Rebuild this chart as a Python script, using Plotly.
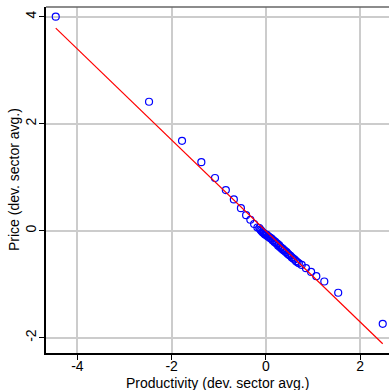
import plotly.graph_objects as go

# Outer points (left part)
x_left = [-4.46, -2.48, -1.78, -1.37, -1.08, -0.85, -0.68, -0.53, -0.42, -0.33, -0.25, -0.18]
y_left = [4.00, 2.41, 1.68, 1.28, 0.985, 0.76, 0.585, 0.42, 0.29, 0.205, 0.125, 0.06]

# Dense central cluster
x_mid = [-0.14, -0.12, -0.10, -0.08, -0.06, -0.04, -0.02, 0.00, 0.02, 0.04,
         0.06, 0.08, 0.10, 0.12, 0.14, 0.16, 0.18, 0.20, 0.22, 0.24,
         0.26, 0.28, 0.30, 0.32, 0.34, 0.36, 0.38, 0.40, 0.42, 0.44,
         0.46, 0.48, 0.50, 0.52, 0.55, 0.58, 0.61, 0.64, 0.67, 0.70]
y_mid = [0.05, 0.02, 0.00, -0.02, -0.04, -0.05, -0.07, -0.08, -0.08, -0.11,
         -0.11, -0.13, -0.14, -0.15, -0.18, -0.18, -0.21, -0.21, -0.24, -0.24,
         -0.28, -0.27, -0.31, -0.31, -0.34, -0.34, -0.37, -0.37, -0.40, -0.40,
         -0.43, -0.44, -0.46, -0.47, -0.50, -0.52, -0.54, -0.57, -0.59, -0.61]

# Outer points (right part)
x_right = [0.76, 0.85, 0.96, 1.07, 1.24, 1.535, 2.48]
y_right = [-0.64, -0.70, -0.77, -0.85, -0.95, -1.16, -1.74]

productivity = x_left + x_mid + x_right
price = y_left + y_mid + y_right

# Fitted line parameters
fit_slope = -0.85
fit_intercept = -0.005

x_ticks = [-4, -2, 0, 2]
y_ticks = [-2, 0, 2, 4]

fx = [min(productivity), max(productivity)]
fy = [fit_intercept + fit_slope * v for v in fx]

font = dict(family="Liberation Sans, Arial, sans-serif", size=14, color="black")

fig = go.Figure()
fig.add_trace(go.Scatter(
    x=productivity, y=price, mode="markers",
    marker=dict(symbol="circle-open", size=7, color="#0000FF", line=dict(width=1.2, color="#0000FF")),
    showlegend=False, cliponaxis=False,
))
fig.add_trace(go.Scatter(
    x=fx, y=fy, mode="lines", line=dict(color="#FF0000", width=1.2),
    showlegend=False,
))

fig.update_layout(
    width=389, height=390,
    margin=dict(l=46, r=0, t=7, b=37),
    paper_bgcolor="white", plot_bgcolor="white",
    font=font,
    xaxis=dict(
        range=[-4.667, 2.613], tickvals=x_ticks, ticktext=[str(v) for v in x_ticks],
        showgrid=True, gridcolor="#CCCCCC", gridwidth=1.5, zeroline=False,
        showline=True, linecolor="black", linewidth=1.5,
        ticks="outside", ticklen=5, tickcolor="black", tickwidth=1.2,
        ticklabelstandoff=-6,
        automargin=False,
    ),
    yaxis=dict(
        range=[-2.286, 4.181], tickvals=y_ticks, ticktext=[str(v) for v in y_ticks],
        tickangle=-90,
        showgrid=True, gridcolor="#CCCCCC", gridwidth=1.5, zeroline=False,
        showline=True, linecolor="black", linewidth=1.5,
        ticks="outside", ticklen=5, tickcolor="black", tickwidth=1.2,
        ticklabelstandoff=-2,
        automargin=False,
    ),
    annotations=[
        dict(text="Productivity (dev. sector avg.)", xref="paper", yref="paper",
             x=0.5, y=0, xanchor="center", yanchor="middle", yshift=-30,
             showarrow=False, font=font),
        dict(text="Price (dev. sector avg.)", xref="paper", yref="paper",
             x=0, y=0.5, xanchor="center", yanchor="middle", xshift=-32, textangle=-90,
             showarrow=False, font=font),
    ],
    shapes=[dict(type="line", xref="paper", yref="paper", x0=0, x1=1, y0=1, y1=1,
                 line=dict(color="#666666", width=1.5))],
)

fig.write_html(
    "out.html",
    config={"displayModeBar": False},
    post_script="document.body.style.margin='0';document.body.style.overflow='hidden';",
)
